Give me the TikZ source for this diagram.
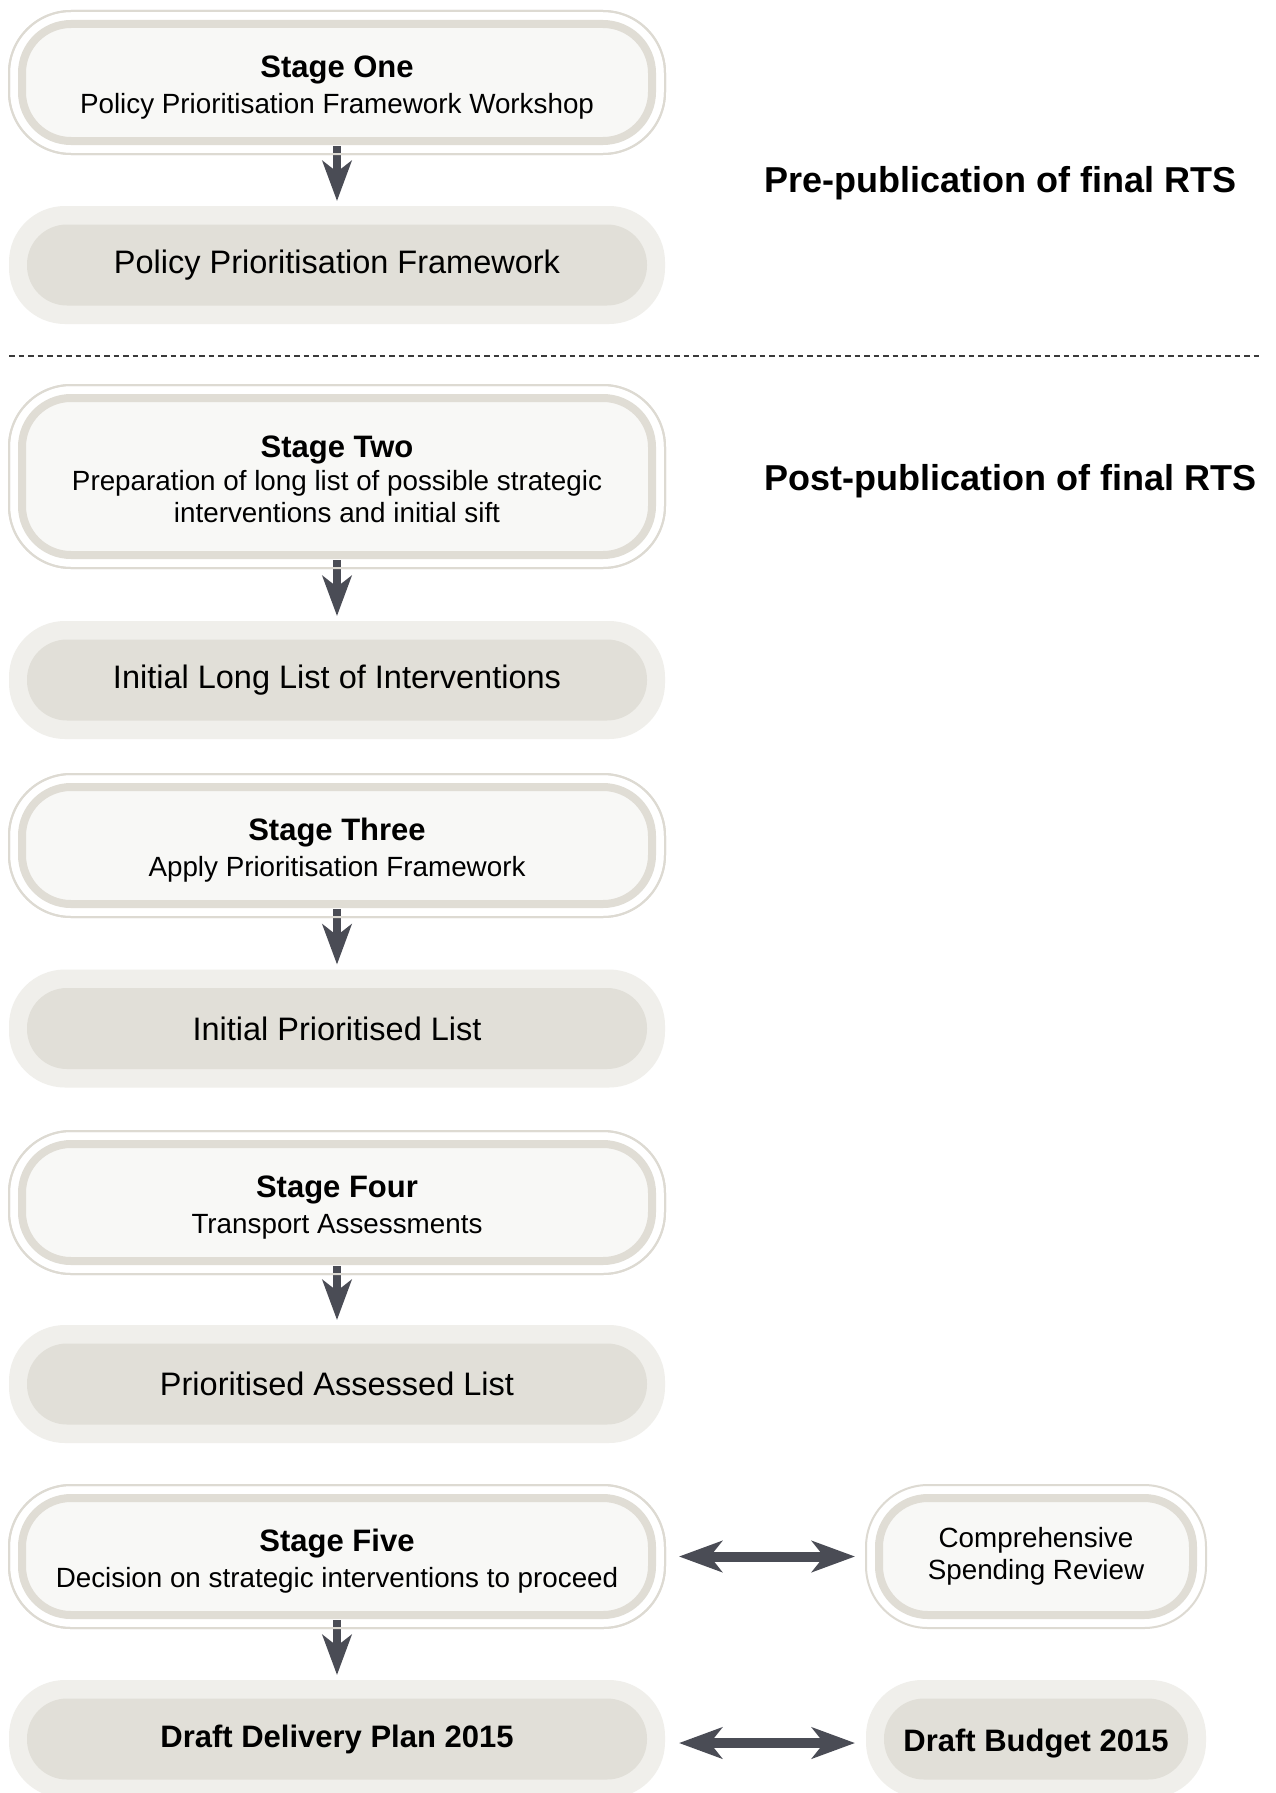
\documentclass[tikz,border=0pt]{standalone}
\usepackage{fontspec}
\setmainfont{Liberation Sans}
\usetikzlibrary{arrows.meta}
\definecolor{ringcol}{HTML}{DDDAD2}
\definecolor{bandcol}{HTML}{E0DDD5}
\definecolor{stagefill}{HTML}{F8F8F6}
\definecolor{outfill}{HTML}{F0EFEB}
\definecolor{outinner}{HTML}{E1DFD8}
\definecolor{arrowcol}{HTML}{4A4C55}
\definecolor{dashcol}{HTML}{3A3A3A}
\newcommand\stitle{\fontsize{31}{36}\selectfont\bfseries}
\newcommand\ssub{\fontsize{27.8}{36}\selectfont\mdseries}
\newcommand\obig{\fontsize{32.5}{36}\selectfont}
\newcommand\obold{\fontsize{31}{36}\selectfont\bfseries}
\newcommand\sidelab{\fontsize{36}{40}\selectfont\bfseries}
\tikzset{
 stagebox/.style={draw=ringcol, line width=2pt, fill=white, rounded corners=62pt,
   minimum width=656pt, minimum height=143pt, inner sep=0pt, outer sep=0pt,
   align=center, text=black, font=\ssub,
   path picture={\draw[bandcol, line width=8pt, fill=stagefill, rounded corners=49pt]
     ([shift={(13pt,-13pt)}]path picture bounding box.north west) rectangle
     ([shift={(-13pt,13pt)}]path picture bounding box.south east);}},
 stagelabel/.style={inner sep=0pt, outer sep=0pt, align=center, text=black, font=\ssub},
 ring/.style={draw=ringcol, line width=2pt, rounded corners=62pt},
 outbox/.style={fill=outfill, rounded corners=56pt,
   minimum width=656pt, minimum height=118pt, inner sep=0pt, outer sep=0pt,
   align=center, text=black, font=\obig,
   path picture={\fill[outinner, rounded corners=40pt]
     ([shift={(18pt,-18.5pt)}]path picture bounding box.north west) rectangle
     ([shift={(-18pt,18.5pt)}]path picture bounding box.south east);}},
 downarrow/.style={draw=arrowcol, line width=8.7pt,
   -{Stealth[length=40pt, width=29pt, inset=11pt]}},
 twoarrow/.style={draw=arrowcol, line width=10pt,
   {Stealth[length=43pt, width=31pt, inset=12pt]}-{Stealth[length=43pt, width=31pt, inset=12pt]}},
 sidetext/.style={anchor=west, inner sep=0pt, text=black, font=\sidelab},
}
\begin{document}
\begin{tikzpicture}[x=1pt,y=1pt]
\fill[white] (0,0) rectangle (1276,-1793);
\useasboundingbox (0,0) rectangle (1276,-1793);

% stage boxes
\node[stagebox] (s1) at (337,-82.5) {};
\node[stagebox, minimum height=183pt] (s2) at (337,-476.5) {};
\node[stagebox] (s3) at (337,-845.5) {};
\node[stagebox] (s4) at (337,-1202.5) {};
\node[stagebox] (s5) at (337,-1556.5) {};

\node[stagelabel] (s1t) at ([yshift=-5pt]s1.center) {{\stitle Stage One}\\Policy Prioritisation Framework Workshop};
\node[stagelabel] (s2t) at ([yshift=-2.5pt]s2.center) {{\stitle Stage Two}\\[-3pt]Preparation of long list of possible strategic\\[-4pt]interventions and initial sift};
\node[stagelabel] (s3t) at ([yshift=-5pt]s3.center) {{\stitle Stage Three}\\Apply Prioritisation Framework};
\node[stagelabel] (s4t) at ([yshift=-5pt]s4.center) {{\stitle Stage Four}\\Transport Assessments};
\node[stagelabel] (s5t) at ([yshift=-5pt]s5.center) {{\stitle Stage Five}\\Decision on strategic interventions to proceed};

% output boxes
\node[outbox] (o1) at (337,-265) {Policy Prioritisation Framework};
\node[outbox] (o2) at (337,-680) {Initial Long List of Interventions};
\node[outbox] (o3) at (337,-1028.5) {Initial Prioritised List};
\node[outbox] (o4) at (337,-1384) {Prioritised Assessed List};
\node[outbox, font=\obold] (o5) at (337,-1739) {Draft Delivery Plan 2015};

% right boxes
\node[stagebox, minimum width=340pt] (r1) at (1036,-1556.5) {Comprehensive\\[-4pt]Spending Review};
\node[outbox, minimum width=340pt, font=\obold, text height=31pt] (r2) at (1036,-1739) {Draft Budget 2015};

% side labels
\node[sidetext] (pre) at (764,-183.5) {Pre-publication of final RTS};
\node[sidetext] (post) at (764,-481) {Post-publication of final RTS};

% separator
\coordinate (dl) at (9,-356);
\coordinate (dr) at (1262,-356);
\draw[dashcol, line width=2pt, dash pattern=on 5.5pt off 4pt] (dl) -- (dr);

% arrows
\draw[downarrow] ([yshift=8pt]s1.south) -- ([yshift=5pt]o1.north);
\draw[downarrow] ([yshift=8pt]s2.south) -- ([yshift=5pt]o2.north);
\draw[downarrow] ([yshift=8pt]s3.south) -- ([yshift=5pt]o3.north);
\draw[downarrow] ([yshift=8pt]s4.south) -- ([yshift=5pt]o4.north);
\draw[downarrow] ([yshift=8pt]s5.south) -- ([yshift=5pt]o5.north);

\draw[twoarrow] ([xshift=14pt]s5.east) -- ([xshift=-11pt]r1.west);
\draw[twoarrow] ([xshift=14pt,yshift=-4pt]o5.east) -- ([xshift=-11pt,yshift=-4pt]r2.west);

% outer rings redrawn over arrow shafts
\foreach \n in {s1,s2,s3,s4,s5}{
  \draw[ring] (\n.south west) rectangle (\n.north east);
}
\end{tikzpicture}
\end{document}
